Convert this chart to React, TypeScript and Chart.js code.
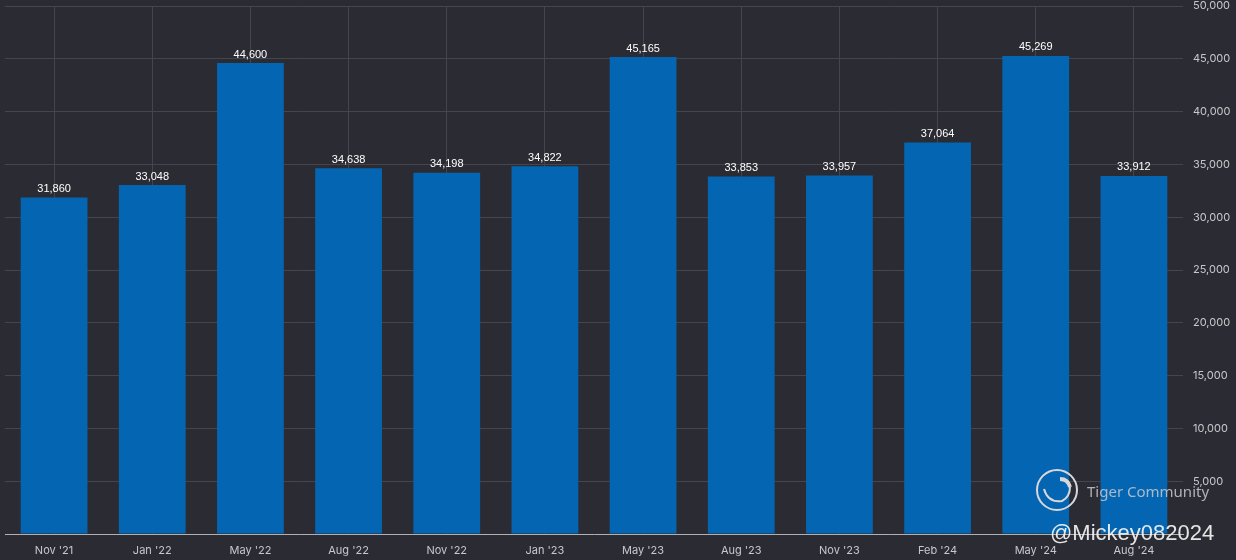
import React, { useEffect, useRef } from "react";
import { Chart, registerables } from "chart.js";

Chart.register(...registerables);

const categories = ["Nov '21", "Jan '22", "May '22", "Aug '22", "Nov '22", "Jan '23", "May '23", "Aug '23", "Nov '23", "Feb '24", "May '24", "Aug '24"];
const values = [31860, 33048, 44600, 34638, 34198, 34822, 45165, 33853, 33957, 37064, 45269, 33912];
const yMax = 50000;
const yStep = 5000;

const valueLabels = {
  id: "valueLabels",
  afterDatasetsDraw(chart: any) {
    const { ctx } = chart;
    const meta = chart.getDatasetMeta(0);
    ctx.save();
    ctx.fillStyle = "#ffffff";
    ctx.font = "11px 'Liberation Sans', Arial, sans-serif";
    ctx.textAlign = "center";
    ctx.textBaseline = "bottom";
    meta.data.forEach((bar: any, i: number) => {
      ctx.fillText(values[i].toLocaleString("en-US"), bar.x, bar.y - 3);
    });
    ctx.restore();
  },
};

export default function App() {
  const ref = useRef<HTMLCanvasElement>(null);
  useEffect(() => {
    document.body.style.margin = "0";
    document.body.style.background = "#2b2b33";
    const chart = new Chart(ref.current!, {
      type: "bar",
      data: {
        labels: categories,
        datasets: [
          {
            data: values,
            backgroundColor: "#0466b2",
            borderWidth: 0,
            barPercentage: 0.68,
            categoryPercentage: 1,
          },
        ],
      },
      options: {
        animation: false,
        responsive: false,
        layout: { padding: { left: 5, top: 6, right: 0, bottom: 0 } },
        plugins: { legend: { display: false }, tooltip: { enabled: false } },
        scales: {
          x: {
            grid: { offset: false, color: "#45454d", drawTicks: false },
            border: { color: "#b0b0b5" },
            ticks: { color: "#c8c8cc", font: { size: 11, family: "Inter, 'Noto Sans', sans-serif" }, padding: 10, maxRotation: 0 },
            afterFit(axis: any) { axis.height = 26; },
          },
          y: {
            position: "right",
            min: 0,
            max: yMax,
            grid: { color: "#45454d", drawTicks: false },
            border: { display: false },
            ticks: {
              stepSize: yStep,
              color: "#c8c8cc",
              padding: 10,
              font: { size: 11, family: "Inter, 'Noto Sans', sans-serif" },
              callback: (v: any) => (v === 0 ? "" : Number(v).toLocaleString("en-US")),
            },
            afterFit(axis: any) { axis.width = 53; axis.paddingTop = 0; },
          },
        },
      },
      plugins: [valueLabels],
    });
    return () => chart.destroy();
  }, []);
  return (
    <div style={{ position: "relative", width: 1236, height: 560, background: "#2b2b33", overflow: "hidden" }}>
      <canvas ref={ref} width={1236} height={560} style={{ display: "block" }} />
      <svg width={46} height={46} style={{ position: "absolute", left: 1034, top: 467 }}>
        <circle cx={23} cy={23} r={20} fill="none" stroke="#d8d8dc" strokeWidth={2} />
        <path d="M10 22 Q14 36 28 34 Q36 30 36 20" fill="none" stroke="#d8d8dc" strokeWidth={2} />
        <path d="M26 12 Q34 12 36 20" fill="none" stroke="#d8d8dc" strokeWidth={4} />
      </svg>
      <div style={{ position: "absolute", left: 1087, top: 481, color: "rgba(200,200,205,0.85)", font: "15px 'Noto Sans', sans-serif", whiteSpace: "nowrap" }}>
        Tiger Community
      </div>
      <div style={{ position: "absolute", left: 1050, top: 520, color: "rgba(245,245,245,0.92)", font: "22px 'Liberation Sans', Arial, sans-serif", whiteSpace: "nowrap" }}>
        @Mickey082024
      </div>
    </div>
  );
}
